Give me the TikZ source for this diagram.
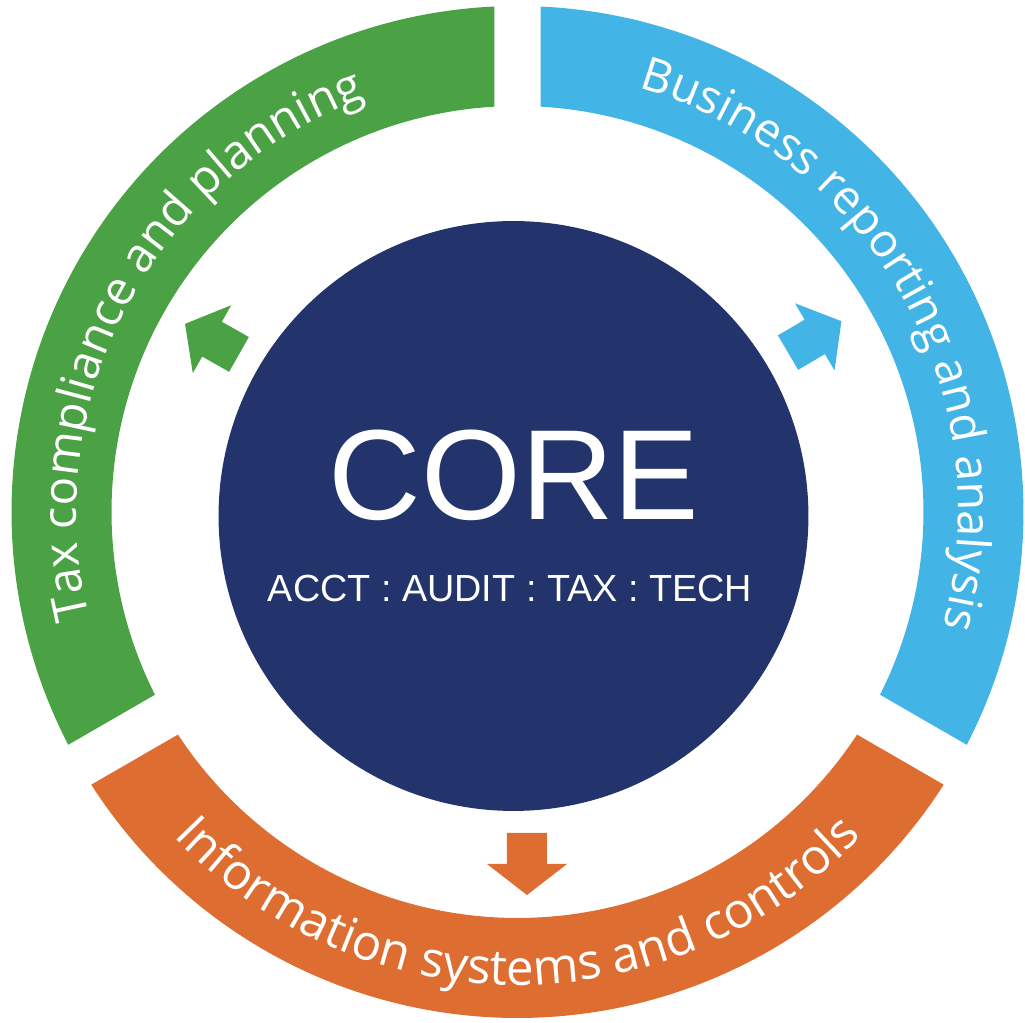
\documentclass[tikz,border=0pt]{standalone}
\usepackage{fontspec}
\setmainfont{Open Sans}
\newfontfamily\corefont{Liberation Sans}
\usetikzlibrary{decorations.text}
\definecolor{taxgreen}{RGB}{75,162,69}
\definecolor{repblue}{RGB}{66,180,230}
\definecolor{sysorange}{RGB}{221,109,48}
\definecolor{corenavy}{RGB}{35,51,107}
\tikzset{
  ringtext/.style 2 args={decorate,decoration={text along path,text align=center,text color=white,
    text={|\fontsize{#1}{#1}\selectfont|#2}}}
}
\begin{document}
\begin{tikzpicture}[x=0.02cm,y=0.02cm]
\useasboundingbox (-517.5,-511) rectangle (507.5,512);
\fill[taxgreen] (92.61:506) arc[start angle=92.61,end angle=207.39,radius=506]
  -- (206.75:406) arc[start angle=206.75,end angle=93.25,radius=406] -- cycle;
\fill[repblue] (87.39:506) arc[start angle=87.39,end angle=-27.39,radius=506]
  -- (-26.75:406) arc[start angle=-26.75,end angle=86.75,radius=406] -- cycle;
\fill[sysorange] (212.61:506) arc[start angle=212.61,end angle=327.39,radius=506]
  -- (326.75:406) arc[start angle=326.75,end angle=213.25,radius=406] -- cycle;
\path[ringtext={27}{Tax compliance and planning}] (209:441) arc[start angle=209,end angle=95,radius=441];
\path[ringtext={26.5}{Business reporting and analysis}] (86:441) arc[start angle=86,end angle=-27,radius=441];
\path[ringtext={28}{Information systems and controls}] (213:473) arc[start angle=213,end angle=327,radius=473];
\fill[taxgreen,shift={(150.5:320)},rotate=150.5] (0,-20) -- (31,-20) -- (31,-39) -- (62,0) -- (31,39) -- (31,20) -- (0,20) -- cycle;
\fill[repblue,shift={(30.5:314)},rotate=30.5] (0,-20) -- (31,-20) -- (31,-39) -- (62,0) -- (31,39) -- (31,20) -- (0,20) -- cycle;
\fill[sysorange,shift={(9.5,-321)},rotate=-90] (0,-20) -- (31,-20) -- (31,-40) -- (62,0) -- (31,40) -- (31,20) -- (0,20) -- cycle;
\node[circle,fill=corenavy,inner sep=0pt,minimum size=11.8cm] (core) at (-4,-4) {};
\node[anchor=base,text=white,font=\corefont\fontsize{73}{73}\selectfont,inner sep=0pt] (corelabel) at (-3.5,-8) {CORE};
\node[anchor=base,text=white,font=\corefont\fontsize{21.5}{21.5}\selectfont,inner sep=0pt] (corelist) at (-7.5,-90) {ACCT : AUDIT : TAX : TECH};
\end{tikzpicture}
\end{document}
